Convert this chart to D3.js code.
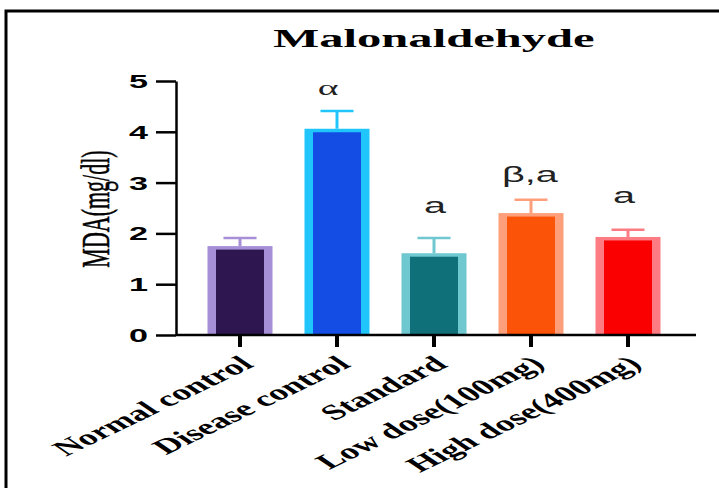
<!DOCTYPE html>
<html>
<head>
<meta charset="utf-8">
<script src="https://cdn.jsdelivr.net/npm/d3@7"></script>
<style>
  body { margin: 0; background: #fff; }
  svg { display: block; }
</style>
</head>
<body>
<div id="chart"></div>
<script>
const categories = ['Normal control', 'Disease control', 'Standard', 'Low dose(100mg)', 'High dose(400mg)'];
const means = [1.75, 4.06, 1.61, 2.40, 1.93];
const errors = [0.16, 0.35, 0.30, 0.26, 0.14];
const marks = ['', 'α', 'a', 'β,a', 'a'];
const fills = ['#2e1650', '#134de4', '#10707a', '#fb5408', '#fb0000'];
const borders = ['#a68fd6', '#20c6fb', '#6fc8cf', '#fd9f7a', '#fd7c84'];
const yTicks = [0, 1, 2, 3, 4, 5];

const width = 719;
const height = 488;

const svg = d3.select('#chart')
  .append('svg')
  .attr('width', width)
  .attr('height', height);

// frame (only top and left edges visible)
svg.append('rect')
  .attr('x', 6).attr('y', 11)
  .attr('width', 900).attr('height', 900)
  .attr('fill', 'none')
  .attr('stroke', '#000')
  .attr('stroke-width', 3);

const y = d3.scaleLinear().domain([0, 5]).range([335, 81]);
const x = d3.scaleBand().domain(categories).range([191.5, 676.5]).padding(0);
const barW = 65;
const cx = d => x(d) + x.bandwidth() / 2;

// title
svg.append('text')
  .attr('transform', 'translate(434,47) scale(1.87,1)')
  .attr('text-anchor', 'middle')
  .attr('font-family', '"Liberation Serif", "Times New Roman", serif')
  .attr('font-weight', 'bold')
  .attr('font-size', 26)
  .text('Malonaldehyde');

// y label
svg.append('text')
  .attr('transform', 'translate(95,209) scale(1.8,1) rotate(-90)')
  .attr('text-anchor', 'middle')
  .attr('dominant-baseline', 'central')
  .attr('font-family', '"Liberation Serif", "Times New Roman", serif')
  .attr('font-size', 22)
  .attr('stroke', '#000')
  .attr('stroke-width', 0.3)
  .text('MDA(mg/dl)');

// bars
const bars = svg.append('g').selectAll('g')
  .data(categories)
  .enter()
  .append('g');

bars.append('rect')
  .attr('x', d => cx(d) - barW / 2)
  .attr('y', (d, i) => y(means[i]))
  .attr('width', barW)
  .attr('height', (d, i) => y(0) - y(means[i]))
  .attr('fill', (d, i) => borders[i]);

bars.append('rect')
  .attr('x', d => cx(d) - barW / 2 + 8.5)
  .attr('y', (d, i) => y(means[i]) + 3.5)
  .attr('width', barW - 17)
  .attr('height', (d, i) => y(0) - y(means[i]) - 3.5)
  .attr('fill', (d, i) => fills[i]);

// error bars
bars.append('line')
  .attr('x1', d => cx(d)).attr('x2', d => cx(d))
  .attr('y1', (d, i) => y(means[i]))
  .attr('y2', (d, i) => y(means[i] + errors[i]))
  .attr('stroke', (d, i) => borders[i])
  .attr('stroke-width', 3);

bars.append('line')
  .attr('x1', d => cx(d) - 16.5).attr('x2', d => cx(d) + 16.5)
  .attr('y1', (d, i) => y(means[i] + errors[i]))
  .attr('y2', (d, i) => y(means[i] + errors[i]))
  .attr('stroke', (d, i) => borders[i])
  .attr('stroke-width', 2.5);

// significance marks, nudged a little from the cap top
const markNudge = [[0, 0], [-9, -16], [1, -25], [-1, -18], [-4, -27]];
bars.append('text')
  .attr('transform', (d, i) => `translate(${cx(d) + markNudge[i][0]},${y(means[i] + errors[i]) + markNudge[i][1]}) scale(1.8,1)`)
  .attr('text-anchor', 'middle')
  .attr('font-family', (d, i) => i === 1 ? '"Liberation Serif", serif' : '"Liberation Sans", Arial, sans-serif')
  .attr('font-size', 22)
  .attr('fill', '#222')
  .text((d, i) => marks[i]);

// y axis
const yAxis = svg.append('g')
  .attr('transform', 'translate(176,0)')
  .call(d3.axisLeft(y).tickValues(yTicks).tickSize(20).tickSizeOuter(0).tickFormat(d3.format('d')));

yAxis.select('.domain').attr('stroke-width', 2.5);
yAxis.selectAll('.tick line').attr('stroke-width', 2.5);
yAxis.selectAll('.tick text')
  .attr('x', null)
  .attr('dy', null)
  .attr('transform', 'translate(-28,6.5) scale(1.9,1)')
  .attr('font-family', '"Liberation Sans", Arial, sans-serif')
  .attr('font-weight', 'bold')
  .attr('font-size', 18)
  .attr('fill', '#000');

// x axis
const xAxis = svg.append('g')
  .attr('transform', `translate(0,${y(0)})`)
  .call(d3.axisBottom(x).tickSize(12).tickSizeOuter(0));

xAxis.select('.domain').remove();
xAxis.append('line')
  .attr('x1', 176).attr('x2', 696)
  .attr('y1', 0).attr('y2', 0)
  .attr('stroke', '#000')
  .attr('stroke-width', 2.5);
xAxis.selectAll('.tick line').attr('stroke-width', 4);
xAxis.selectAll('.tick text')
  .attr('y', null)
  .attr('dy', null)
  .attr('transform', 'translate(15,31) scale(1.75,1) rotate(-40)')
  .attr('text-anchor', 'end')
  .attr('font-family', '"Liberation Serif", "Times New Roman", serif')
  .attr('font-weight', 'bold')
  .attr('font-size', 21.5)
  .attr('fill', '#000');
</script>
</body>
</html>
